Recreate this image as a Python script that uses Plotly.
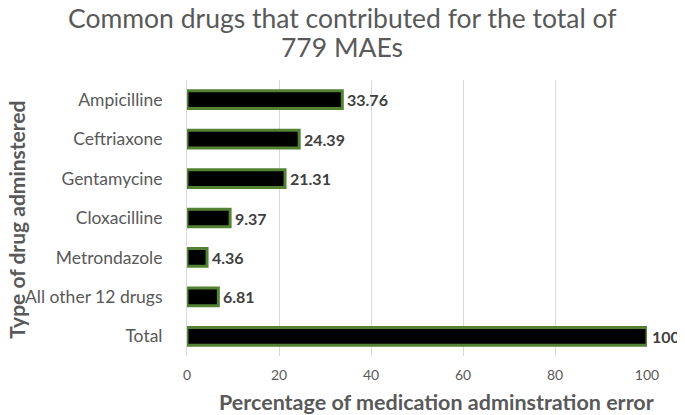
import plotly.graph_objects as go

drugs = ["Ampicilline", "Ceftriaxone", "Gentamycine", "Cloxacilline",
         "Metrondazole", "All other 12 drugs", "Total"]
percent = [33.76, 24.39, 21.31, 9.37, 4.36, 6.81, 100]
x_ticks = [0, 20, 40, 60, 80, 100]
title_lines = ["Common drugs that contributed for the total of", "779 MAEs"]

font = "Lato, Open Sans, sans-serif"

fig = go.Figure()
fig.add_trace(go.Bar(
    y=drugs, x=percent, orientation="h",
    marker=dict(color="black", line=dict(color="#548235", width=3)),
    hoverinfo="x+y",
))

value_labels = [
    dict(x=v, y=d, xref="x", yref="y", text=f"<b>{v:g}</b>",
         xanchor="left", yanchor="middle", xshift=3, showarrow=False,
         font=dict(family=font, size=16, color="#404040"))
    for d, v in zip(drugs, percent)
]

title_anns = [
    dict(text=t, xref="paper", yref="paper", x=0.338, y=yy,
         xanchor="center", yanchor="middle", showarrow=False,
         font=dict(family=font, size=26.5, color="#595959"))
    for t, yy in zip(title_lines, [1.225, 1.118])
]

fig.update_layout(
    width=677, height=407,
    margin=dict(l=179, r=38, t=72, b=59),
    paper_bgcolor="white", plot_bgcolor="white",
    bargap=0.55,
    showlegend=False,
    font=dict(family=font, color="#595959"),
    annotations=value_labels + title_anns + [
        dict(text="<b>Type of drug adminstered</b>", textangle=-90,
             xref="paper", yref="paper", x=-0.370, y=0.493,
             xanchor="center", yanchor="middle", showarrow=False,
             font=dict(family=font, size=21, color="#595959")),
        dict(text="<b>Percentage of medication adminstration error</b>",
             xref="paper", yref="paper", x=0.543, y=-0.165,
             xanchor="center", yanchor="middle", showarrow=False,
             font=dict(family=font, size=21.5, color="#595959")),
    ],
)
fig.update_xaxes(range=[0, 100], tickvals=x_ticks, showgrid=True,
                 gridcolor="#d9d9d9", gridwidth=1, zeroline=False,
                 showline=False, ticks="", automargin=False,
                 ticklabelstandoff=9,
                 tickfont=dict(size=14, color="#595959"))
fig.update_yaxes(autorange="reversed", showline=True, linecolor="#d9d9d9",
                 linewidth=1, ticks="", automargin=False,
                 ticklabelstandoff=20,
                 tickfont=dict(size=17.5, color="#595959"))

fig.write_html("out.html")
